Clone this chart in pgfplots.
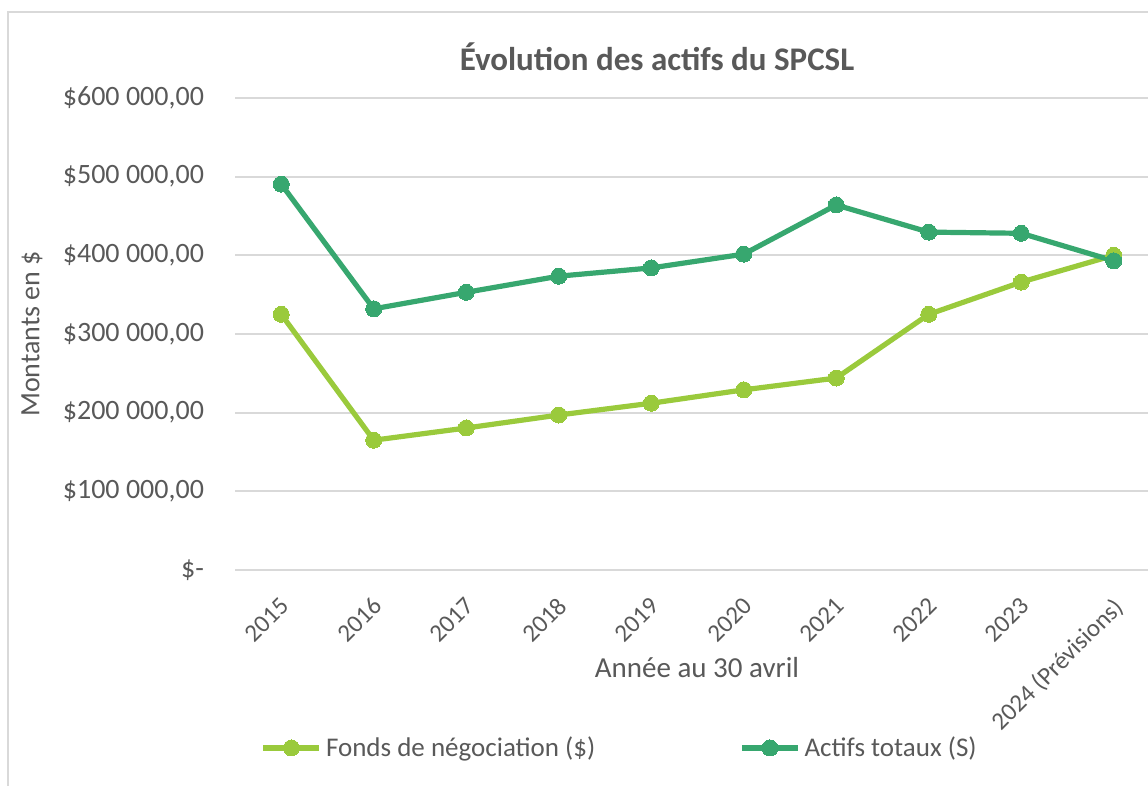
\documentclass[border=0pt]{standalone}
\usepackage{pgfplots}
\pgfplotsset{compat=1.18}
\usepackage{fontspec}
\setmainfont{Carlito}
\definecolor{lightg}{HTML}{9ACA3C}
\definecolor{darkg}{HTML}{37A76F}
\definecolor{txt}{HTML}{595959}
\definecolor{gridc}{HTML}{D9D9D9}
\begin{document}
\begin{tikzpicture}
\useasboundingbox (0,0) rectangle (574pt,393pt);
\draw[gridc, line width=1pt] (4pt,0) -- (4pt,387pt) -- (574pt,387pt);
\begin{axis}[
  at={(117.5pt,108pt)}, anchor=south west,
  scale only axis, width=462.5pt, height=236pt,
  xmin=-0.5, xmax=9.5, ymin=0, ymax=600000,
  axis line style={draw=none},
  major tick length=0pt,
  xmajorgrids=false, ymajorgrids=true,
  major grid style={draw=gridc, line width=1pt},
  scaled y ticks=false,
  xtick={0,...,9},
  xticklabels={2015,2016,2017,2018,2019,2020,2021,2022,2023,{2024 (Prévisions)}},
  ytick={0,100000,200000,300000,400000,500000,600000},
  yticklabels={{\$-},{\$100 000,00},{\$200 000,00},{\$300 000,00},{\$400 000,00},{\$500 000,00},{\$600 000,00}},
  yticklabel style={font=\fontsize{14}{16}\selectfont, text=txt, anchor=east, xshift=-12pt},
  xticklabel style={font=\fontsize{12.5}{14}\selectfont, text=txt, xshift=-1pt, yshift=-8pt, rotate=45, anchor=north east},
  legend style={at={(0.417,-0.377)}, anchor=center, draw=none, fill=none, font=\fontsize{13.5}{15}\selectfont, text=txt, legend cell align=left},
  legend columns=2,
  /tikz/every even column/.append style={column sep=70pt},
  legend image code/.code={\draw[#1, mark repeat=2, mark phase=2] plot coordinates {(0pt,0pt)(14pt,0pt)(28pt,0pt)};},
]
\addplot[lightg, line width=2.6pt, mark=*, mark size=4pt, mark options={fill=lightg, draw=lightg, line width=0pt}] coordinates {
(0,325000)(1,165000)(2,180500)(3,197000)(4,212000)(5,229000)(6,244000)(7,325000)(8,366000)(9,400000)};
\addlegendentry{Fonds de négociation (\$)}
\addplot[darkg, line width=2.6pt, mark=*, mark size=4pt, mark options={fill=darkg, draw=darkg, line width=0pt}] coordinates {
(0,490500)(1,332000)(2,353000)(3,373500)(4,384000)(5,401500)(6,464000)(7,429500)(8,428000)(9,393000)};
\addlegendentry{Actifs totaux (S)}
\end{axis}
\node[text=txt, font=\bfseries\fontsize{16.5}{18}\selectfont] at (328.5pt,364.5pt) {Évolution des actifs du SPCSL};
\node[text=txt, font=\fontsize{14}{16}\selectfont, rotate=90] at (16pt,226pt) {Montants en \$};
\node[text=txt, font=\fontsize{14.5}{16}\selectfont] at (348.5pt,59pt) {Année au 30 avril};
\end{tikzpicture}
\end{document}
